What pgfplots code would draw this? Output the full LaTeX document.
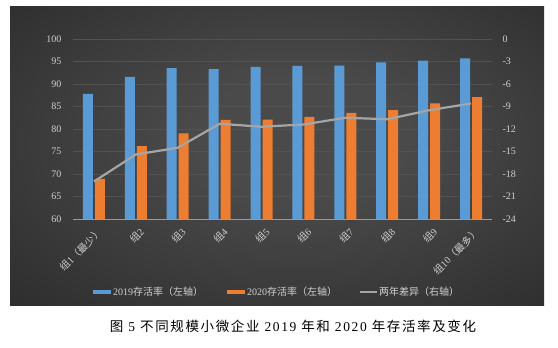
\documentclass[border=0pt]{standalone}
\usepackage{fontspec}
\setmainfont{Liberation Serif}
\newfontfamily\cjk{Noto Sans CJK SC}
\newfontfamily\cjkcap[LetterSpace=12]{Noto Sans CJK SC}
\newfontfamily\sercap[LetterSpace=12]{Liberation Serif}
\usepackage{pgfplots}
\pgfplotsset{compat=1.18}
\definecolor{cblue}{HTML}{5B9BD5}
\definecolor{corange}{HTML}{ED7D31}
\definecolor{cgray}{HTML}{A5A5A5}
\definecolor{ctext}{HTML}{D0D0D0}
\definecolor{cgrid}{HTML}{525252}
\definecolor{cbase}{HTML}{9A9A9A}
\definecolor{bgin}{HTML}{4A4A4A}
\definecolor{bgout}{HTML}{1E1E1E}
\pgfdeclareradialshading{bgshade}{\pgfpoint{3bp}{4bp}}{color(0bp)=(bgin); color(10bp)=(bgin); color(52bp)=(bgout)}
\begin{document}
\begin{tikzpicture}[x=1pt,y=1pt]
\useasboundingbox (0,0) rectangle (558,348);
\shade[shading=bgshade] (10,42) rectangle (544,341);
\begin{axis}[
  at={(73pt,129pt)}, anchor=south west, scale only axis,
  width=419pt, height=180pt,
  xmin=0.5, xmax=10.5, ymin=60, ymax=100,
  ytick={60,65,...,100},
  xtick={1,...,10},
  xticklabels={{{\cjk 组}1{\cjk （最少）}},{\cjk 组}2,{\cjk 组}3,{\cjk 组}4,{\cjk 组}5,{\cjk 组}6,{\cjk 组}7,{\cjk 组}8,{\cjk 组}9,{{\cjk 组}10{\cjk （最多）}}},
  ymajorgrids, grid style={cgrid, line width=0.6pt},
  extra y ticks={60}, extra y tick labels={},
  extra y tick style={grid style={cbase, line width=0.8pt}},
  axis line style={draw=none}, major tick length=0pt,
  ybar=2pt, bar width=10pt,
  tick label style={font=\fontsize{10}{12}\selectfont, text=ctext},
  yticklabel style={xshift=-8pt},
  xticklabel style={rotate=45, anchor=north east, yshift=-4pt},
  /pgf/number format/assume math mode=true,
]
\addplot[fill=cblue, draw=none] coordinates {(1,87.8) (2,91.6) (3,93.5) (4,93.3) (5,93.8) (6,94.0) (7,94.1) (8,94.8) (9,95.2) (10,95.7)};
\addplot[fill=corange, draw=none] coordinates {(1,68.9) (2,76.2) (3,79.0) (4,82.0) (5,82.1) (6,82.7) (7,83.6) (8,84.2) (9,85.7) (10,87.1)};
\end{axis}
\begin{axis}[
  at={(73pt,129pt)}, anchor=south west, scale only axis,
  width=419pt, height=180pt,
  xmin=0.5, xmax=10.5, ymin=-24, ymax=0,
  ytick={-24,-21,...,0},
  yticklabels={-24,-21,-18,-15,-12,-9,-6,-3,0},
  axis y line*=right, hide x axis,
  axis line style={draw=none}, major tick length=0pt,
  tick label style={font=\fontsize{10}{12}\selectfont, text=ctext},
  yticklabel style={xshift=7pt},
]
\addplot[cgray, line width=2.2pt, line join=round] coordinates {(1,-19.0) (2,-15.4) (3,-14.5) (4,-11.3) (5,-11.7) (6,-11.4) (7,-10.5) (8,-10.7) (9,-9.5) (10,-8.6)};
\end{axis}
% legend
\fill[cblue] (93,54) rectangle (111,58);
\node[anchor=west, inner sep=0pt, text=ctext, font=\fontsize{10}{12}\selectfont] at (113,56) {2019{\cjk 存活率（左轴）}};
\fill[corange] (227,54) rectangle (245,58);
\node[anchor=west, inner sep=0pt, text=ctext, font=\fontsize{10}{12}\selectfont] at (247,56) {2020{\cjk 存活率（左轴）}};
\draw[cgray, line width=2pt] (360,56) -- (377,56);
\node[anchor=west, inner sep=0pt, text=ctext, font=\fontsize{10}{12}\selectfont] at (379,56) {{\cjk 两年差异（右轴）}};
% caption
\node[anchor=center, inner sep=0pt, text=black, font=\fontsize{13.5}{16}\selectfont] at (293,22) {{\cjkcap 图}\hspace{5pt}{\sercap 5}\hspace{5pt}{\cjkcap 不同规模小微企业}\hspace{5pt}{\sercap 2019}\hspace{5pt}{\cjkcap 年和}\hspace{5pt}{\sercap 2020}\hspace{5pt}{\cjkcap 年存活率及变化}};
\end{tikzpicture}
\end{document}
